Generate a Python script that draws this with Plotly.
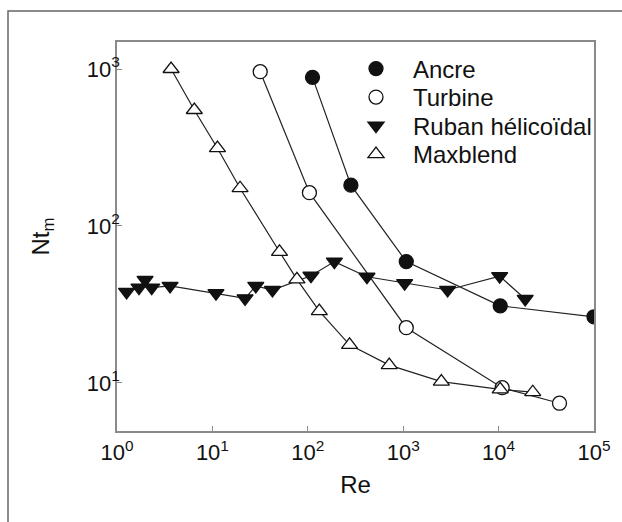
import plotly.graph_objects as go

# ---- data ----
ancre_re = [112, 283, 1077, 10400, 100000]
ancre_nt = [885, 182, 59.3, 31.0, 26.4]

turbine_re = [31.7, 104, 1077, 10900, 43500]
turbine_nt = [961, 163, 22.5, 9.33, 7.43]

ruban_re = [1.26, 1.70, 1.97, 2.31, 3.6, 10.9, 22.0, 28.5, 42.6, 108, 190, 417, 1035, 2920, 10260, 19000]
ruban_nt = [38.0, 40.5, 45.3, 40.5, 41.5, 37.3, 34.6, 41.5, 39.1, 48.2, 59.3, 47.5, 43.2, 39.1, 47.9, 34.3]

maxblend_re = [3.69, 6.46, 11.3, 19.5, 50.5, 76.9, 132, 274, 714, 2510, 10400, 22800]
maxblend_nt = [1000, 548, 313, 174, 68.5, 45.7, 28.7, 17.5, 13.0, 10.2, 9.1, 8.73]

x_tickvals = [1, 10, 100, 1000, 10000, 100000]
x_ticktext = ["10<sup>0</sup>", "10<sup>1</sup>", "10<sup>2</sup>", "10<sup>3</sup>", "10<sup>4</sup>", "10<sup>5</sup>"]
y_tickvals = [10, 100, 1000]
y_ticktext = ["10<sup>1</sup>", "10<sup>2</sup>", "10<sup>3</sup>"]

series = [
    ("Ancre", ancre_re, ancre_nt, "circle", "#111111", 14),
    ("Turbine", turbine_re, turbine_nt, "circle", "white", 14),
    ("Ruban hélicoïdal", ruban_re, ruban_nt, "triangle-down", "#111111", 14),
    ("Maxblend", maxblend_re, maxblend_nt, "triangle-up", "white", 14),
]

FONT = "Liberation Sans, Arial, sans-serif"
fig = go.Figure()

# connecting lines (drawn first, under markers)
for name, xs, ys, sym, fill, size in series:
    fig.add_trace(go.Scatter(x=xs, y=ys, mode="lines", showlegend=False,
                             line=dict(color="#222222", width=1.2), hoverinfo="skip"))

# markers, each in its own legend so rows can be spaced like the reference
legend_names = ["legend", "legend2", "legend3", "legend4"]
for (name, xs, ys, sym, fill, size), lg in zip(series, legend_names):
    fig.add_trace(go.Scatter(x=xs, y=ys, mode="markers", name=name, legend=lg,
                             marker=dict(symbol=sym, size=size, color=fill,
                                         line=dict(color="#111111", width=1.3))))

axis_common = dict(
    type="log", showline=True, mirror=True, linecolor="#8a8a8a", linewidth=1.5,
    ticks="inside", ticklen=5, tickcolor="#8a8a8a", tickwidth=1,
    showgrid=False, zeroline=False,
    tickfont=dict(family=FONT, size=22, color="#111111"),
)

row_centers = [70, 98.5, 127, 155.5]
legend_layout = {}
for lg, cy in zip(legend_names, row_centers):
    legend_layout[lg] = dict(
        x=(339 - 117) / 477, y=(431 - (cy - 1)) / 389, xanchor="left", yanchor="middle",
        bgcolor="rgba(0,0,0,0)", borderwidth=0,
        font=dict(family=FONT, size=24, color="#111111"),
        itemwidth=64,
    )

fig.update_layout(
    width=622, height=522,
    margin=dict(l=117, r=28, t=42, b=91),
    paper_bgcolor="white", plot_bgcolor="white",
    font=dict(family=FONT, color="#111111"),
    xaxis=dict(axis_common, range=[0, 5], tickvals=x_tickvals, ticktext=x_ticktext,
               ticklabelstandoff=1,
               title=dict(text="Re", font=dict(family=FONT, size=24), standoff=12)),
    yaxis=dict(axis_common, range=[0.694, 3.172], tickvals=y_tickvals, ticktext=y_ticktext,
               ticklabelstandoff=-9,
               title=dict(text="Nt<sub>m</sub>", font=dict(family=FONT, size=24), standoff=30)),
    shapes=[dict(type="rect", xref="paper", yref="paper",
                 x0=(8 - 117) / 477, x1=(640 - 117) / 477,
                 y0=(431 - 560) / 389, y1=(431 - 11) / 389,
                 line=dict(color="#666666", width=1.5), layer="below")],
    **legend_layout,
)

fig.write_html("out.html")
